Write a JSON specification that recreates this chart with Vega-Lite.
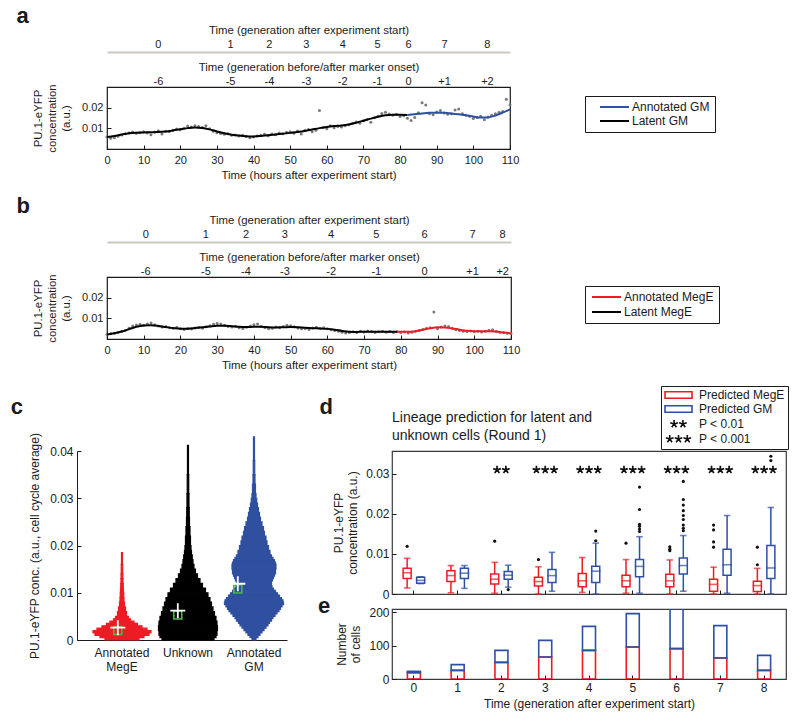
{
  "$schema": "https://vega.github.io/schema/vega-lite/v6.json",
  "padding": {"left": 10, "top": 4, "right": 4, "bottom": 4},
  "background": "white",
  "config": {
    "font": "Liberation Sans",
    "view": {"stroke": null},
    "axis": {"labelFontSize": 12, "titleFontSize": 12, "titleFontWeight": "normal", "labelColor": "#1a1a1a", "titleColor": "#1a1a1a", "domainColor": "#1a1a1a", "tickColor": "#1a1a1a", "grid": false, "labelFlush": false, "labelOverlap": false, "labelFont": "Liberation Sans", "titleFont": "Liberation Sans"},
    "legend": {"labelFont": "Liberation Sans", "labelFontSize": 12, "labelColor": "#1a1a1a"},
    "title": {"font": "Liberation Sans", "color": "#1a1a1a"}
  },
  "datasets": {
    "aPts": [
      {"hour":0,"conc":0.0058},{"hour":1,"conc":0.0052},{"hour":2,"conc":0.0055},{"hour":3,"conc":0.0062},{"hour":4,"conc":0.0068},{"hour":5,"conc":0.0074},{"hour":6,"conc":0.0078},{"hour":7,"conc":0.0082},{"hour":8,"conc":0.0076},{"hour":9,"conc":0.0079},
      {"hour":10,"conc":0.0083},{"hour":11,"conc":0.0077},{"hour":12,"conc":0.0069},{"hour":13,"conc":0.0082},{"hour":14,"conc":0.0088},{"hour":15,"conc":0.0072},{"hour":16,"conc":0.0086},{"hour":17,"conc":0.0085},{"hour":18,"conc":0.0091},{"hour":19,"conc":0.0097},
      {"hour":20,"conc":0.0093},{"hour":21,"conc":0.0101},{"hour":22,"conc":0.0111},{"hour":23,"conc":0.0106},{"hour":24,"conc":0.0113},{"hour":25,"conc":0.0109},{"hour":26,"conc":0.0104},{"hour":27,"conc":0.0112},{"hour":28,"conc":0.0098},{"hour":29,"conc":0.0086},
      {"hour":30,"conc":0.0079},{"hour":31,"conc":0.0075},{"hour":32,"conc":0.0071},{"hour":33,"conc":0.0074},{"hour":34,"conc":0.0066},{"hour":35,"conc":0.0068},{"hour":36,"conc":0.0063},{"hour":37,"conc":0.0066},{"hour":38,"conc":0.0061},{"hour":39,"conc":0.0055},
      {"hour":40,"conc":0.0058},{"hour":41,"conc":0.0063},{"hour":42,"conc":0.0067},{"hour":43,"conc":0.0071},{"hour":44,"conc":0.0064},{"hour":45,"conc":0.0073},{"hour":46,"conc":0.0069},{"hour":47,"conc":0.0078},{"hour":48,"conc":0.0074},{"hour":49,"conc":0.0081},
      {"hour":50,"conc":0.0084},{"hour":51,"conc":0.0076},{"hour":52,"conc":0.0087},{"hour":53,"conc":0.0072},{"hour":54,"conc":0.0089},{"hour":55,"conc":0.0094},{"hour":56,"conc":0.0083},{"hour":57,"conc":0.0091},{"hour":58,"conc":0.0186},{"hour":59,"conc":0.0104},
      {"hour":60,"conc":0.0098},{"hour":61,"conc":0.0112},{"hour":62,"conc":0.0103},{"hour":63,"conc":0.0109},{"hour":64,"conc":0.0106},{"hour":65,"conc":0.0113},{"hour":66,"conc":0.0117},{"hour":67,"conc":0.0124},{"hour":68,"conc":0.0131},{"hour":69,"conc":0.0125},
      {"hour":70,"conc":0.0137},{"hour":71,"conc":0.0143},{"hour":72,"conc":0.0129},{"hour":73,"conc":0.0151},{"hour":74,"conc":0.0158},{"hour":75,"conc":0.0172},{"hour":76,"conc":0.0178},{"hour":77,"conc":0.0169},{"hour":78,"conc":0.0163},{"hour":79,"conc":0.0168},
      {"hour":80,"conc":0.0157},{"hour":81,"conc":0.0161},{"hour":82,"conc":0.0149},{"hour":83,"conc":0.0138},{"hour":84,"conc":0.0152},{"hour":85,"conc":0.0176},{"hour":86,"conc":0.0224},{"hour":87,"conc":0.0213},{"hour":88,"conc":0.0171},{"hour":89,"conc":0.0166},
      {"hour":90,"conc":0.0179},{"hour":91,"conc":0.0186},{"hour":92,"conc":0.0174},{"hour":93,"conc":0.0168},{"hour":94,"conc":0.0171},{"hour":95,"conc":0.0189},{"hour":96,"conc":0.0193},{"hour":97,"conc":0.0171},{"hour":98,"conc":0.0163},{"hour":99,"conc":0.0158},
      {"hour":100,"conc":0.0147},{"hour":101,"conc":0.0152},{"hour":102,"conc":0.0158},{"hour":103,"conc":0.0141},{"hour":104,"conc":0.0155},{"hour":105,"conc":0.0163},{"hour":106,"conc":0.0171},{"hour":107,"conc":0.0178},{"hour":108,"conc":0.0182},{"hour":109,"conc":0.0241},{"hour":110,"conc":0.0214}
    ],
    "bPts": [
      {"hour":0,"conc":0.0022},{"hour":1,"conc":0.0025},{"hour":2,"conc":0.0028},{"hour":3,"conc":0.0031},{"hour":4,"conc":0.0036},{"hour":5,"conc":0.0041},{"hour":6,"conc":0.0052},{"hour":7,"conc":0.0063},{"hour":8,"conc":0.0068},{"hour":9,"conc":0.0071},
      {"hour":10,"conc":0.0066},{"hour":11,"conc":0.0073},{"hour":12,"conc":0.0078},{"hour":13,"conc":0.0069},{"hour":14,"conc":0.0063},{"hour":15,"conc":0.0058},{"hour":16,"conc":0.0061},{"hour":17,"conc":0.0055},{"hour":18,"conc":0.0052},{"hour":19,"conc":0.0057},
      {"hour":20,"conc":0.0049},{"hour":21,"conc":0.0046},{"hour":22,"conc":0.0051},{"hour":23,"conc":0.0048},{"hour":24,"conc":0.0053},{"hour":25,"conc":0.0056},{"hour":26,"conc":0.0052},{"hour":27,"conc":0.0059},{"hour":28,"conc":0.0064},{"hour":29,"conc":0.0071},
      {"hour":30,"conc":0.0075},{"hour":31,"conc":0.0073},{"hour":32,"conc":0.0066},{"hour":33,"conc":0.0061},{"hour":34,"conc":0.0058},{"hour":35,"conc":0.0062},{"hour":36,"conc":0.0055},{"hour":37,"conc":0.0051},{"hour":38,"conc":0.0057},{"hour":39,"conc":0.0063},
      {"hour":40,"conc":0.0069},{"hour":41,"conc":0.0073},{"hour":42,"conc":0.0061},{"hour":43,"conc":0.0054},{"hour":44,"conc":0.0049},{"hour":45,"conc":0.0052},{"hour":46,"conc":0.0058},{"hour":47,"conc":0.0055},{"hour":48,"conc":0.0061},{"hour":49,"conc":0.0066},
      {"hour":50,"conc":0.0064},{"hour":51,"conc":0.0059},{"hour":52,"conc":0.0053},{"hour":53,"conc":0.0049},{"hour":54,"conc":0.0051},{"hour":55,"conc":0.0046},{"hour":56,"conc":0.0053},{"hour":57,"conc":0.0057},{"hour":58,"conc":0.0051},{"hour":59,"conc":0.0055},
      {"hour":60,"conc":0.0049},{"hour":61,"conc":0.0045},{"hour":62,"conc":0.0041},{"hour":63,"conc":0.0037},{"hour":64,"conc":0.0033},{"hour":65,"conc":0.0029},{"hour":66,"conc":0.0031},{"hour":67,"conc":0.0035},{"hour":68,"conc":0.0032},{"hour":69,"conc":0.0037},
      {"hour":70,"conc":0.0034},{"hour":71,"conc":0.0039},{"hour":72,"conc":0.0036},{"hour":73,"conc":0.0031},{"hour":74,"conc":0.0035},{"hour":75,"conc":0.0038},{"hour":76,"conc":0.0033},{"hour":77,"conc":0.0036},{"hour":78,"conc":0.0032},{"hour":79,"conc":0.0035},
      {"hour":80,"conc":0.0031},{"hour":81,"conc":0.0034},{"hour":82,"conc":0.0029},{"hour":83,"conc":0.0033},{"hour":84,"conc":0.0037},{"hour":85,"conc":0.0041},{"hour":86,"conc":0.0046},{"hour":87,"conc":0.0052},{"hour":88,"conc":0.0055},{"hour":89,"conc":0.0131},
      {"hour":90,"conc":0.0049},{"hour":91,"conc":0.0058},{"hour":92,"conc":0.0063},{"hour":93,"conc":0.0061},{"hour":94,"conc":0.0052},{"hour":95,"conc":0.0045},{"hour":96,"conc":0.0041},{"hour":97,"conc":0.0038},{"hour":98,"conc":0.0036},{"hour":99,"conc":0.0039},
      {"hour":100,"conc":0.0035},{"hour":101,"conc":0.0037},{"hour":102,"conc":0.0034},{"hour":103,"conc":0.0038},{"hour":104,"conc":0.0042},{"hour":105,"conc":0.0045},{"hour":106,"conc":0.0036},{"hour":107,"conc":0.0033},{"hour":108,"conc":0.0031},{"hour":109,"conc":0.0028},{"hour":110,"conc":0.0027}
    ],
    "aCurve": [
      {"series":"Latent GM","hour":0,"conc":0.0058},{"series":"Latent GM","hour":2,"conc":0.0063},{"series":"Latent GM","hour":4,"conc":0.0070},{"series":"Latent GM","hour":6,"conc":0.0076},{"series":"Latent GM","hour":8,"conc":0.0079},{"series":"Latent GM","hour":10,"conc":0.0080},{"series":"Latent GM","hour":12,"conc":0.0081},{"series":"Latent GM","hour":14,"conc":0.0082},{"series":"Latent GM","hour":16,"conc":0.0085},{"series":"Latent GM","hour":18,"conc":0.0090},
      {"series":"Latent GM","hour":20,"conc":0.0096},{"series":"Latent GM","hour":22,"conc":0.0101},{"series":"Latent GM","hour":24,"conc":0.0104},{"series":"Latent GM","hour":26,"conc":0.0102},{"series":"Latent GM","hour":28,"conc":0.0095},{"series":"Latent GM","hour":30,"conc":0.0085},{"series":"Latent GM","hour":32,"conc":0.0076},{"series":"Latent GM","hour":34,"conc":0.0069},{"series":"Latent GM","hour":36,"conc":0.0065},{"series":"Latent GM","hour":38,"conc":0.0062},
      {"series":"Latent GM","hour":40,"conc":0.0061},{"series":"Latent GM","hour":42,"conc":0.0063},{"series":"Latent GM","hour":44,"conc":0.0066},{"series":"Latent GM","hour":46,"conc":0.0070},{"series":"Latent GM","hour":48,"conc":0.0074},{"series":"Latent GM","hour":50,"conc":0.0078},{"series":"Latent GM","hour":52,"conc":0.0082},{"series":"Latent GM","hour":54,"conc":0.0087},{"series":"Latent GM","hour":56,"conc":0.0094},{"series":"Latent GM","hour":58,"conc":0.0101},
      {"series":"Latent GM","hour":60,"conc":0.0107},{"series":"Latent GM","hour":62,"conc":0.0111},{"series":"Latent GM","hour":64,"conc":0.0114},{"series":"Latent GM","hour":66,"conc":0.0119},{"series":"Latent GM","hour":68,"conc":0.0127},{"series":"Latent GM","hour":70,"conc":0.0137},{"series":"Latent GM","hour":72,"conc":0.0147},{"series":"Latent GM","hour":74,"conc":0.0156},{"series":"Latent GM","hour":76,"conc":0.0163},{"series":"Latent GM","hour":78,"conc":0.0166},
      {"series":"Latent GM","hour":80,"conc":0.0166},{"series":"Latent GM","hour":82,"conc":0.0165},
      {"series":"Annotated GM","hour":82,"conc":0.0165},{"series":"Annotated GM","hour":84,"conc":0.0168},{"series":"Annotated GM","hour":86,"conc":0.0172},{"series":"Annotated GM","hour":88,"conc":0.0175},{"series":"Annotated GM","hour":90,"conc":0.0176},{"series":"Annotated GM","hour":92,"conc":0.0175},{"series":"Annotated GM","hour":94,"conc":0.0172},{"series":"Annotated GM","hour":96,"conc":0.0168},
      {"series":"Annotated GM","hour":98,"conc":0.0163},{"series":"Annotated GM","hour":100,"conc":0.0157},{"series":"Annotated GM","hour":102,"conc":0.0152},{"series":"Annotated GM","hour":104,"conc":0.0153},{"series":"Annotated GM","hour":106,"conc":0.0162},{"series":"Annotated GM","hour":108,"conc":0.0176},{"series":"Annotated GM","hour":110,"conc":0.0192}
    ],
    "bCurve": [
      {"series":"Latent MegE","hour":0,"conc":0.0022},{"series":"Latent MegE","hour":2,"conc":0.0028},{"series":"Latent MegE","hour":4,"conc":0.0036},{"series":"Latent MegE","hour":6,"conc":0.0048},{"series":"Latent MegE","hour":8,"conc":0.0059},{"series":"Latent MegE","hour":10,"conc":0.0065},{"series":"Latent MegE","hour":12,"conc":0.0066},{"series":"Latent MegE","hour":14,"conc":0.0063},{"series":"Latent MegE","hour":16,"conc":0.0058},{"series":"Latent MegE","hour":18,"conc":0.0053},
      {"series":"Latent MegE","hour":20,"conc":0.0050},{"series":"Latent MegE","hour":22,"conc":0.0050},{"series":"Latent MegE","hour":24,"conc":0.0053},{"series":"Latent MegE","hour":26,"conc":0.0057},{"series":"Latent MegE","hour":28,"conc":0.0061},{"series":"Latent MegE","hour":30,"conc":0.0064},{"series":"Latent MegE","hour":32,"conc":0.0064},{"series":"Latent MegE","hour":34,"conc":0.0062},{"series":"Latent MegE","hour":36,"conc":0.0059},{"series":"Latent MegE","hour":38,"conc":0.0058},
      {"series":"Latent MegE","hour":40,"conc":0.0059},{"series":"Latent MegE","hour":42,"conc":0.0059},{"series":"Latent MegE","hour":44,"conc":0.0057},{"series":"Latent MegE","hour":46,"conc":0.0056},{"series":"Latent MegE","hour":48,"conc":0.0057},{"series":"Latent MegE","hour":50,"conc":0.0058},{"series":"Latent MegE","hour":52,"conc":0.0057},{"series":"Latent MegE","hour":54,"conc":0.0054},{"series":"Latent MegE","hour":56,"conc":0.0052},{"series":"Latent MegE","hour":58,"conc":0.0051},
      {"series":"Latent MegE","hour":60,"conc":0.0049},{"series":"Latent MegE","hour":62,"conc":0.0045},{"series":"Latent MegE","hour":64,"conc":0.0039},{"series":"Latent MegE","hour":66,"conc":0.0035},{"series":"Latent MegE","hour":68,"conc":0.0034},{"series":"Latent MegE","hour":70,"conc":0.0035},{"series":"Latent MegE","hour":72,"conc":0.0035},{"series":"Latent MegE","hour":74,"conc":0.0035},{"series":"Latent MegE","hour":76,"conc":0.0035},{"series":"Latent MegE","hour":79,"conc":0.0035},
      {"series":"Annotated MegE","hour":79,"conc":0.0035},{"series":"Annotated MegE","hour":82,"conc":0.0035},{"series":"Annotated MegE","hour":84,"conc":0.0038},{"series":"Annotated MegE","hour":86,"conc":0.0045},{"series":"Annotated MegE","hour":88,"conc":0.0052},{"series":"Annotated MegE","hour":90,"conc":0.0057},{"series":"Annotated MegE","hour":92,"conc":0.0056},{"series":"Annotated MegE","hour":94,"conc":0.0051},
      {"series":"Annotated MegE","hour":96,"conc":0.0045},{"series":"Annotated MegE","hour":98,"conc":0.0040},{"series":"Annotated MegE","hour":100,"conc":0.0038},{"series":"Annotated MegE","hour":102,"conc":0.0038},{"series":"Annotated MegE","hour":104,"conc":0.0038},{"series":"Annotated MegE","hour":106,"conc":0.0036},{"series":"Annotated MegE","hour":108,"conc":0.0031},{"series":"Annotated MegE","hour":110,"conc":0.0027}
    ],
    "violin": [
      {"group":"Annotated MegE","v0":0,"v1":0.0005,"w":34},{"group":"Annotated MegE","v0":0.0005,"v1":0.001,"w":44},{"group":"Annotated MegE","v0":0.001,"v1":0.0015,"w":54},{"group":"Annotated MegE","v0":0.0015,"v1":0.002,"w":58},{"group":"Annotated MegE","v0":0.002,"v1":0.0025,"w":50},{"group":"Annotated MegE","v0":0.0025,"v1":0.003,"w":40},{"group":"Annotated MegE","v0":0.003,"v1":0.0035,"w":31},{"group":"Annotated MegE","v0":0.0035,"v1":0.004,"w":24},{"group":"Annotated MegE","v0":0.004,"v1":0.0045,"w":17},{"group":"Annotated MegE","v0":0.0045,"v1":0.005,"w":13},
      {"group":"Annotated MegE","v0":0.005,"v1":0.006,"w":9},{"group":"Annotated MegE","v0":0.006,"v1":0.007,"w":7},{"group":"Annotated MegE","v0":0.007,"v1":0.008,"w":5},{"group":"Annotated MegE","v0":0.008,"v1":0.009,"w":4},{"group":"Annotated MegE","v0":0.009,"v1":0.01,"w":3.5},{"group":"Annotated MegE","v0":0.01,"v1":0.011,"w":3},{"group":"Annotated MegE","v0":0.011,"v1":0.012,"w":2.5},{"group":"Annotated MegE","v0":0.012,"v1":0.013,"w":2},{"group":"Annotated MegE","v0":0.013,"v1":0.014,"w":1.8},{"group":"Annotated MegE","v0":0.014,"v1":0.016,"w":1.5},{"group":"Annotated MegE","v0":0.016,"v1":0.0185,"w":1},
      {"group":"Unknown","v0":0,"v1":0.0005,"w":52},{"group":"Unknown","v0":0.0005,"v1":0.001,"w":56},{"group":"Unknown","v0":0.001,"v1":0.002,"w":58},{"group":"Unknown","v0":0.002,"v1":0.003,"w":59},{"group":"Unknown","v0":0.003,"v1":0.004,"w":58},{"group":"Unknown","v0":0.004,"v1":0.005,"w":56},{"group":"Unknown","v0":0.005,"v1":0.006,"w":53},{"group":"Unknown","v0":0.006,"v1":0.007,"w":50},{"group":"Unknown","v0":0.007,"v1":0.008,"w":47},{"group":"Unknown","v0":0.008,"v1":0.009,"w":44},
      {"group":"Unknown","v0":0.009,"v1":0.01,"w":40},{"group":"Unknown","v0":0.01,"v1":0.011,"w":35},{"group":"Unknown","v0":0.011,"v1":0.012,"w":29},{"group":"Unknown","v0":0.012,"v1":0.013,"w":24},{"group":"Unknown","v0":0.013,"v1":0.014,"w":19},{"group":"Unknown","v0":0.014,"v1":0.015,"w":15},{"group":"Unknown","v0":0.015,"v1":0.016,"w":12},{"group":"Unknown","v0":0.016,"v1":0.017,"w":10},{"group":"Unknown","v0":0.017,"v1":0.018,"w":8.5},{"group":"Unknown","v0":0.018,"v1":0.019,"w":7},
      {"group":"Unknown","v0":0.019,"v1":0.02,"w":6},{"group":"Unknown","v0":0.02,"v1":0.022,"w":5},{"group":"Unknown","v0":0.022,"v1":0.024,"w":4},{"group":"Unknown","v0":0.024,"v1":0.026,"w":3},{"group":"Unknown","v0":0.026,"v1":0.028,"w":2.5},{"group":"Unknown","v0":0.028,"v1":0.031,"w":2},{"group":"Unknown","v0":0.031,"v1":0.035,"w":1.5},{"group":"Unknown","v0":0.035,"v1":0.0412,"w":1},
      {"group":"Annotated GM","v0":0,"v1":0.0005,"w":4},{"group":"Annotated GM","v0":0.0005,"v1":0.001,"w":8},{"group":"Annotated GM","v0":0.001,"v1":0.0015,"w":12},{"group":"Annotated GM","v0":0.0015,"v1":0.002,"w":16},{"group":"Annotated GM","v0":0.002,"v1":0.0025,"w":20},{"group":"Annotated GM","v0":0.0025,"v1":0.003,"w":24},{"group":"Annotated GM","v0":0.003,"v1":0.0035,"w":28},{"group":"Annotated GM","v0":0.0035,"v1":0.004,"w":31},{"group":"Annotated GM","v0":0.004,"v1":0.0045,"w":35},{"group":"Annotated GM","v0":0.0045,"v1":0.005,"w":38},
      {"group":"Annotated GM","v0":0.005,"v1":0.0055,"w":42},{"group":"Annotated GM","v0":0.0055,"v1":0.006,"w":46},{"group":"Annotated GM","v0":0.006,"v1":0.0065,"w":50},{"group":"Annotated GM","v0":0.0065,"v1":0.007,"w":53},{"group":"Annotated GM","v0":0.007,"v1":0.0075,"w":56},{"group":"Annotated GM","v0":0.0075,"v1":0.008,"w":59},{"group":"Annotated GM","v0":0.008,"v1":0.0085,"w":58},{"group":"Annotated GM","v0":0.0085,"v1":0.009,"w":55},{"group":"Annotated GM","v0":0.009,"v1":0.0095,"w":51},{"group":"Annotated GM","v0":0.0095,"v1":0.01,"w":47},
      {"group":"Annotated GM","v0":0.01,"v1":0.0105,"w":43},{"group":"Annotated GM","v0":0.0105,"v1":0.011,"w":39},{"group":"Annotated GM","v0":0.011,"v1":0.0115,"w":36},{"group":"Annotated GM","v0":0.0115,"v1":0.012,"w":35},{"group":"Annotated GM","v0":0.012,"v1":0.0125,"w":35},{"group":"Annotated GM","v0":0.0125,"v1":0.013,"w":37},{"group":"Annotated GM","v0":0.013,"v1":0.0135,"w":39},{"group":"Annotated GM","v0":0.0135,"v1":0.014,"w":41},{"group":"Annotated GM","v0":0.014,"v1":0.015,"w":43},{"group":"Annotated GM","v0":0.015,"v1":0.016,"w":44},
      {"group":"Annotated GM","v0":0.016,"v1":0.0165,"w":43},{"group":"Annotated GM","v0":0.0165,"v1":0.017,"w":41},{"group":"Annotated GM","v0":0.017,"v1":0.0175,"w":38},{"group":"Annotated GM","v0":0.0175,"v1":0.018,"w":35},{"group":"Annotated GM","v0":0.018,"v1":0.019,"w":32},{"group":"Annotated GM","v0":0.019,"v1":0.02,"w":29},{"group":"Annotated GM","v0":0.02,"v1":0.021,"w":26},{"group":"Annotated GM","v0":0.021,"v1":0.022,"w":24},{"group":"Annotated GM","v0":0.022,"v1":0.023,"w":21},{"group":"Annotated GM","v0":0.023,"v1":0.024,"w":19},
      {"group":"Annotated GM","v0":0.024,"v1":0.025,"w":16},{"group":"Annotated GM","v0":0.025,"v1":0.026,"w":13},{"group":"Annotated GM","v0":0.026,"v1":0.027,"w":11},{"group":"Annotated GM","v0":0.027,"v1":0.028,"w":9},{"group":"Annotated GM","v0":0.028,"v1":0.029,"w":7},{"group":"Annotated GM","v0":0.029,"v1":0.03,"w":5.5},{"group":"Annotated GM","v0":0.03,"v1":0.031,"w":4},{"group":"Annotated GM","v0":0.031,"v1":0.033,"w":3},{"group":"Annotated GM","v0":0.033,"v1":0.035,"w":2},{"group":"Annotated GM","v0":0.035,"v1":0.038,"w":1.5},{"group":"Annotated GM","v0":0.038,"v1":0.043,"w":1},
      {"group":"Annotated MegE","mean":0.0026,"median":0.002},{"group":"Unknown","mean":0.0062,"median":0.0053},{"group":"Annotated GM","mean":0.0119,"median":0.0108}
    ],
    "boxes": [
      {"gen":0,"lineage":"Predicted MegE","lo":0.0015,"q1":0.0039,"med":0.0053,"q3":0.0064,"hi":0.0089},
      {"gen":0,"lineage":"Predicted GM","lo":0.0026,"q1":0.0027,"med":0.0034,"q3":0.0042,"hi":0.0043},
      {"gen":1,"lineage":"Predicted MegE","lo":0.0003,"q1":0.0031,"med":0.0046,"q3":0.0058,"hi":0.0071},
      {"gen":1,"lineage":"Predicted GM","lo":0.0014,"q1":0.0039,"med":0.0052,"q3":0.0064,"hi":0.0071},
      {"gen":2,"lineage":"Predicted MegE","lo":0.0002,"q1":0.0025,"med":0.0037,"q3":0.005,"hi":0.0079},
      {"gen":2,"lineage":"Predicted GM","lo":0.0017,"q1":0.0037,"med":0.0047,"q3":0.0056,"hi":0.0072},
      {"gen":3,"lineage":"Predicted MegE","lo":0.0,"q1":0.002,"med":0.0031,"q3":0.0042,"hi":0.0068},
      {"gen":3,"lineage":"Predicted GM","lo":0.0007,"q1":0.0029,"med":0.0046,"q3":0.0061,"hi":0.0104},
      {"gen":4,"lineage":"Predicted MegE","lo":0.0004,"q1":0.0018,"med":0.0033,"q3":0.0051,"hi":0.0091},
      {"gen":4,"lineage":"Predicted GM","lo":0.0,"q1":0.0029,"med":0.0057,"q3":0.0069,"hi":0.0127},
      {"gen":5,"lineage":"Predicted MegE","lo":0.0002,"q1":0.0018,"med":0.0033,"q3":0.0047,"hi":0.0086},
      {"gen":5,"lineage":"Predicted GM","lo":0.0002,"q1":0.0043,"med":0.0069,"q3":0.0086,"hi":0.0143},
      {"gen":6,"lineage":"Predicted MegE","lo":0.0,"q1":0.0018,"med":0.0033,"q3":0.0049,"hi":0.0085},
      {"gen":6,"lineage":"Predicted GM","lo":0.0007,"q1":0.005,"med":0.0071,"q3":0.009,"hi":0.0146},
      {"gen":7,"lineage":"Predicted MegE","lo":0.0,"q1":0.0007,"med":0.0024,"q3":0.0037,"hi":0.0067},
      {"gen":7,"lineage":"Predicted GM","lo":0.0002,"q1":0.0047,"med":0.0073,"q3":0.0112,"hi":0.0196},
      {"gen":8,"lineage":"Predicted MegE","lo":0.0,"q1":0.0006,"med":0.0021,"q3":0.0032,"hi":0.0064},
      {"gen":8,"lineage":"Predicted GM","lo":0.0,"q1":0.0039,"med":0.0065,"q3":0.0121,"hi":0.0216}
    ],
    "outliers": [
      {"gen":0,"lineage":"Predicted MegE","v":0.0119},
      {"gen":2,"lineage":"Predicted MegE","v":0.0132},{"gen":2,"lineage":"Predicted GM","v":0.0011},
      {"gen":3,"lineage":"Predicted MegE","v":0.0086},
      {"gen":4,"lineage":"Predicted GM","v":0.0133},{"gen":4,"lineage":"Predicted GM","v":0.0157},
      {"gen":5,"lineage":"Predicted MegE","v":0.0127},
      {"gen":5,"lineage":"Predicted GM","v":0.0156},{"gen":5,"lineage":"Predicted GM","v":0.0162},{"gen":5,"lineage":"Predicted GM","v":0.0169},{"gen":5,"lineage":"Predicted GM","v":0.0174},{"gen":5,"lineage":"Predicted GM","v":0.0211},{"gen":5,"lineage":"Predicted GM","v":0.0267},
      {"gen":6,"lineage":"Predicted MegE","v":0.0108},{"gen":6,"lineage":"Predicted MegE","v":0.0112},{"gen":6,"lineage":"Predicted MegE","v":0.0118},
      {"gen":6,"lineage":"Predicted GM","v":0.0158},{"gen":6,"lineage":"Predicted GM","v":0.0164},{"gen":6,"lineage":"Predicted GM","v":0.0172},{"gen":6,"lineage":"Predicted GM","v":0.0186},{"gen":6,"lineage":"Predicted GM","v":0.0196},{"gen":6,"lineage":"Predicted GM","v":0.0208},{"gen":6,"lineage":"Predicted GM","v":0.0222},{"gen":6,"lineage":"Predicted GM","v":0.0236},{"gen":6,"lineage":"Predicted GM","v":0.0281},
      {"gen":7,"lineage":"Predicted MegE","v":0.0117},{"gen":7,"lineage":"Predicted MegE","v":0.013},{"gen":7,"lineage":"Predicted MegE","v":0.016},{"gen":7,"lineage":"Predicted MegE","v":0.0172},
      {"gen":8,"lineage":"Predicted MegE","v":0.0073},{"gen":8,"lineage":"Predicted MegE","v":0.0117},
      {"gen":8,"lineage":"Predicted GM","v":0.0333},{"gen":8,"lineage":"Predicted GM","v":0.0344}
    ],
    "stars": [
      {"gen":2,"key":"P < 0.01"},{"gen":3,"key":"P < 0.001"},{"gen":4,"key":"P < 0.001"},{"gen":5,"key":"P < 0.001"},{"gen":6,"key":"P < 0.001"},{"gen":7,"key":"P < 0.001"},{"gen":8,"key":"P < 0.001"}
    ],
    "counts": [
      {"gen":0,"lineage":"Predicted MegE","count":19},{"gen":0,"lineage":"Predicted GM","count":4},
      {"gen":1,"lineage":"Predicted MegE","count":26},{"gen":1,"lineage":"Predicted GM","count":17},
      {"gen":2,"lineage":"Predicted MegE","count":50},{"gen":2,"lineage":"Predicted GM","count":36},
      {"gen":3,"lineage":"Predicted MegE","count":66},{"gen":3,"lineage":"Predicted GM","count":50},
      {"gen":4,"lineage":"Predicted MegE","count":86},{"gen":4,"lineage":"Predicted GM","count":72},
      {"gen":5,"lineage":"Predicted MegE","count":96},{"gen":5,"lineage":"Predicted GM","count":100},
      {"gen":6,"lineage":"Predicted MegE","count":91},{"gen":6,"lineage":"Predicted GM","count":121},
      {"gen":7,"lineage":"Predicted MegE","count":63},{"gen":7,"lineage":"Predicted GM","count":97},
      {"gen":8,"lineage":"Predicted MegE","count":26},{"gen":8,"lineage":"Predicted GM","count":45}
    ]
  },
  "columns": 1,
  "align": "none",
  "spacing": 13,
  "resolve": {"scale": {"color": "independent", "shape": "independent", "stroke": "independent", "size": "independent"}, "legend": {"color": "independent", "shape": "independent"}},
  "concat": [
    {
      "spacing": 13,
      "resolve": {"scale": {"color": "independent"}, "legend": {"color": "independent"}},
      "vconcat": [
        {
          "width": 403, "height": 62,
          "view": {"stroke": "#1a1a1a", "strokeWidth": 1.2},
          "title": {"text": "a", "anchor": "start", "frame": "bounds", "dx": -16, "fontSize": 22, "fontWeight": "bold", "offset": -4},
          "resolve": {"scale": {"x": "independent"}},
          "layer": [
            {
              "data": {"name": "aPts"},
              "mark": {"type": "circle", "size": 9, "color": "#7a7a7a", "opacity": 1},
              "encoding": {
                "x": {"field": "hour", "type": "quantitative", "scale": {"domain": [0, 110], "nice": false}, "axis": {"values": [0,10,20,30,40,50,60,70,80,90,100,110], "title": "Time (hours after experiment start)", "labelFontSize": 11, "titleFontSize": 11.4, "tickSize": -4, "labelPadding": 9, "titlePadding": 4, "domain": false}},
                "y": {"field": "conc", "type": "quantitative", "scale": {"domain": [0, 0.03], "nice": false}, "axis": {"values": [0.01, 0.02], "format": ".2f", "title": ["PU.1-eYFP", "concentration", "(a.u.)"], "labelFontSize": 11, "titleFontSize": 11.4, "titleLineHeight": 14, "tickSize": -4, "labelPadding": 8, "titlePadding": 10, "domain": false}}
              }
            },
            {
              "data": {"name": "aCurve"},
              "transform": [{"filter": "datum.series == 'Latent GM'"}],
              "mark": {"type": "line", "strokeWidth": 2, "interpolate": "monotone"},
              "encoding": {
                "x": {"field": "hour", "type": "quantitative", "scale": {"domain": [0, 110], "nice": false}, "axis": {"orient": "top", "values": [13.9,33.6,44.2,54.3,64.2,73.7,82.2,92,103.7], "labelExpr": "(indexof([13.9,33.6,44.2,54.3,64.2,73.7,82.2,92,103.7], datum.value) > 6 ? '+' : '') + (indexof([13.9,33.6,44.2,54.3,64.2,73.7,82.2,92,103.7], datum.value) - 6)", "title": "Time (generation before/after marker onset)", "labelFontSize": 11, "titleFontSize": 11.4, "ticks": false, "domain": false, "labelPadding": 1, "titlePadding": 3}},
                "y": {"field": "conc", "type": "quantitative"},
                "color": {"field": "series", "type": "nominal", "scale": {"domain": ["Annotated GM", "Latent GM"], "range": ["#2d50a5", "#000000"]}, "legend": {"orient": "none", "legendX": 478, "legendY": 9, "title": null, "strokeColor": "#1a1a1a", "padding": 5, "symbolType": "M-2.9,0H2.9", "symbolSize": 100, "symbolOffset": 18.5, "symbolStrokeWidth": 2, "rowPadding": 2, "labelOffset": 11.5}}
              }
            },
            {
              "data": {"name": "aCurve"},
              "transform": [{"filter": "datum.series == 'Annotated GM'"}],
              "mark": {"type": "line", "strokeWidth": 2, "interpolate": "monotone"},
              "encoding": {
                "x": {"field": "hour", "type": "quantitative", "scale": {"domain": [0, 110], "nice": false}, "axis": {"orient": "top", "offset": 35, "values": [13.9,33.6,44.2,54.3,64.2,73.7,82.2,92,103.7], "labelExpr": "'' + indexof([13.9,33.6,44.2,54.3,64.2,73.7,82.2,92,103.7], datum.value)", "title": "Time (generation after experiment start)", "labelFontSize": 11, "titleFontSize": 11.4, "ticks": false, "domainColor": "#cdc9c1", "domainWidth": 2, "labelPadding": 3, "titlePadding": 3}},
                "y": {"field": "conc", "type": "quantitative"},
                "color": {"field": "series", "type": "nominal", "scale": {"domain": ["Annotated GM", "Latent GM"], "range": ["#2d50a5", "#000000"]}}
              }
            }
          ]
        },
        {
          "width": 404, "height": 62,
          "view": {"stroke": "#1a1a1a", "strokeWidth": 1.2},
          "title": {"text": "b", "anchor": "start", "frame": "bounds", "dx": -16, "fontSize": 22, "fontWeight": "bold", "offset": -4},
          "resolve": {"scale": {"x": "independent"}},
          "layer": [
            {
              "data": {"name": "bPts"},
              "mark": {"type": "circle", "size": 9, "color": "#7a7a7a", "opacity": 1},
              "encoding": {
                "x": {"field": "hour", "type": "quantitative", "scale": {"domain": [0, 110], "nice": false}, "axis": {"values": [0,10,20,30,40,50,60,70,80,90,100,110], "title": "Time (hours after experiment start)", "labelFontSize": 11, "titleFontSize": 11.4, "tickSize": -4, "labelPadding": 9, "titlePadding": 4, "domain": false}},
                "y": {"field": "conc", "type": "quantitative", "scale": {"domain": [0, 0.03], "nice": false}, "axis": {"values": [0.01, 0.02], "format": ".2f", "title": ["PU.1-eYFP", "concentration", "(a.u.)"], "labelFontSize": 11, "titleFontSize": 11.4, "titleLineHeight": 14, "tickSize": -4, "labelPadding": 8, "titlePadding": 10, "domain": false}}
              }
            },
            {
              "data": {"name": "bCurve"},
              "transform": [{"filter": "datum.series == 'Latent MegE'"}],
              "mark": {"type": "line", "strokeWidth": 2, "interpolate": "monotone"},
              "encoding": {
                "x": {"field": "hour", "type": "quantitative", "scale": {"domain": [0, 110], "nice": false}, "axis": {"orient": "top", "values": [10.4,26.8,37.7,48.3,60.9,73.2,86.3,99.4,107.6], "labelExpr": "(indexof([10.4,26.8,37.7,48.3,60.9,73.2,86.3,99.4,107.6], datum.value) > 6 ? '+' : '') + (indexof([10.4,26.8,37.7,48.3,60.9,73.2,86.3,99.4,107.6], datum.value) - 6)", "title": "Time (generation before/after marker onset)", "labelFontSize": 11, "titleFontSize": 11.4, "ticks": false, "domain": false, "labelPadding": 1, "titlePadding": 3}},
                "y": {"field": "conc", "type": "quantitative"},
                "color": {"field": "series", "type": "nominal", "scale": {"domain": ["Annotated MegE", "Latent MegE"], "range": ["#ed1c24", "#000000"]}, "legend": {"orient": "none", "legendX": 478, "legendY": 9, "title": null, "strokeColor": "#1a1a1a", "padding": 5, "symbolType": "M-2.9,0H2.9", "symbolSize": 100, "symbolOffset": 10.5, "symbolStrokeWidth": 2, "rowPadding": 3, "labelOffset": 11.5}}
              }
            },
            {
              "data": {"name": "bCurve"},
              "transform": [{"filter": "datum.series == 'Annotated MegE'"}],
              "mark": {"type": "line", "strokeWidth": 2, "interpolate": "monotone"},
              "encoding": {
                "x": {"field": "hour", "type": "quantitative", "scale": {"domain": [0, 110], "nice": false}, "axis": {"orient": "top", "offset": 35, "values": [10.4,26.8,37.7,48.3,60.9,73.2,86.3,99.4,107.6], "labelExpr": "'' + indexof([10.4,26.8,37.7,48.3,60.9,73.2,86.3,99.4,107.6], datum.value)", "title": "Time (generation after experiment start)", "labelFontSize": 11, "titleFontSize": 11.4, "ticks": false, "domainColor": "#cdc9c1", "domainWidth": 2, "labelPadding": 3, "titlePadding": 3}},
                "y": {"field": "conc", "type": "quantitative"},
                "color": {"field": "series", "type": "nominal", "scale": {"domain": ["Annotated MegE", "Latent MegE"], "range": ["#ed1c24", "#000000"]}}
              }
            }
          ]
        }
      ]
    },
    {
      "columns": 2,
      "align": "none",
      "spacing": 30,
      "resolve": {"scale": {"color": "independent", "shape": "independent", "stroke": "independent", "size": "independent"}, "legend": {"color": "independent", "shape": "independent"}},
      "concat": [
        {
          "width": 180, "height": 189,
          "data": {"name": "violin"},
          "title": {"text": "c", "anchor": "start", "frame": "bounds", "dx": -18, "fontSize": 22, "fontWeight": "bold", "offset": 13},
          "resolve": {"scale": {"x": "independent"}},
          "layer": [
            {
              "transform": [{"filter": "isValid(datum.w)"}],
              "mark": {"type": "bar", "strokeWidth": 1.2},
              "encoding": {
                "x": {"field": "group", "type": "nominal", "scale": {"domain": ["Annotated MegE", "Unknown", "Annotated GM"], "paddingInner": 0.7, "paddingOuter": 0.2135, "align": 0.18}, "axis": {"orient": "bottom", "title": null, "ticks": false, "labelAngle": 0, "labelExpr": "split(datum.label, ' ')", "labelPadding": 7, "labelLineHeight": 14, "labelFontSize": 12}},
                "y": {"field": "v0", "type": "quantitative", "scale": {"domain": [0, 0.04], "nice": false}, "axis": {"offset": 30, "values": [0,0.005,0.01,0.015,0.02,0.025,0.03,0.035,0.04], "labelExpr": "round(datum.value*1000) % 10 == 0 ? format(datum.value, '~g') : ''", "title": "PU.1-eYFP conc. (a.u., cell cycle average)", "tickSize": -4, "labelPadding": 8, "titlePadding": 8}},
                "y2": {"field": "v1"},
                "size": {"field": "w", "type": "quantitative", "scale": {"domain": [0, 59], "range": [0, 59], "zero": true}, "legend": null},
                "color": {"field": "group", "type": "nominal", "scale": {"domain": ["Annotated MegE", "Unknown", "Annotated GM"], "range": ["#ed1c24", "#000000", "#2f4f9f"]}, "legend": null},
                "stroke": {"field": "group", "type": "nominal", "scale": {"domain": ["Annotated MegE", "Unknown", "Annotated GM"], "range": ["#ed1c24", "#000000", "#2f4f9f"]}, "legend": null}
              }
            },
            {
              "transform": [{"filter": "isValid(datum.median)"}],
              "mark": {"type": "square", "size": 64, "filled": false, "stroke": "#4cb848", "strokeWidth": 1.6, "opacity": 1},
              "encoding": {
                "x": {"field": "group", "type": "nominal", "scale": {"domain": ["Annotated MegE", "Unknown", "Annotated GM"], "paddingInner": 0.7, "paddingOuter": 0.2135, "align": 0.18}, "axis": {"orient": "bottom", "position": -30, "labels": false, "ticks": false, "title": null}},
                "y": {"field": "median", "type": "quantitative"}
              }
            },
            {
              "transform": [{"filter": "isValid(datum.mean)"}],
              "mark": {"type": "point", "shape": "M-1,0H1M0,-1V1", "size": 225, "filled": false, "stroke": "white", "strokeWidth": 1.8, "opacity": 1},
              "encoding": {
                "x": {"field": "group", "type": "nominal", "scale": {"domain": ["Annotated MegE", "Unknown", "Annotated GM"], "paddingInner": 0.7, "paddingOuter": 0.2135, "align": 0.18}, "axis": null},
                "y": {"field": "mean", "type": "quantitative"}
              }
            }
          ]
        },
        {
          "title": {"text": "d", "anchor": "start", "frame": "bounds", "dx": 2, "dy": 34, "fontSize": 22, "fontWeight": "bold", "offset": 0},
          "bounds": "flush",
          "spacing": 15,
          "resolve": {"scale": {"color": "independent", "shape": "independent", "stroke": "independent"}, "legend": {"color": "independent", "shape": "independent"}},
          "vconcat": [
            {
              "width": 394, "height": 143,
              "view": {"stroke": "#3a3a3a", "strokeWidth": 1.2},
              "title": {"text": ["Lineage prediction for latent and", "unknown cells (Round 1)"], "anchor": "start", "frame": "group", "fontSize": 14, "fontWeight": "normal", "lineHeight": 18, "offset": 9, "dy": 66},
              "layer": [
                {
                  "data": {"name": "boxes"},
                  "mark": {"type": "rule", "strokeWidth": 1.5},
                  "encoding": {
                    "x": {"field": "gen", "type": "ordinal", "scale": {"domain": [0,1,2,3,4,5,6,7,8], "paddingInner": 0, "paddingOuter": 0}, "axis": {"labels": false, "title": null, "tickSize": -4, "domain": false}},
                    "xOffset": {"field": "lineage", "type": "nominal", "scale": {"domain": ["Predicted MegE", "Predicted GM"], "paddingInner": 0, "paddingOuter": 0.62}},
                    "y": {"field": "lo", "type": "quantitative", "scale": {"domain": [0, 0.0357], "nice": false}, "axis": {"values": [0, 0.01, 0.02, 0.03], "format": "~g", "title": ["PU.1-eYFP", "concentration (a.u.)"], "titleLineHeight": 14, "tickSize": -4, "labelPadding": 7, "titlePadding": 6, "domain": false}},
                    "y2": {"field": "q1"},
                    "stroke": {"field": "lineage", "type": "nominal", "scale": {"domain": ["Predicted MegE", "Predicted GM"], "range": ["#ed1c24", "#2d50a5"]}, "legend": null}
                  }
                },
                {
                  "data": {"name": "boxes"},
                  "mark": {"type": "rule", "strokeWidth": 1.5},
                  "encoding": {
                    "x": {"field": "gen", "type": "ordinal"},
                    "xOffset": {"field": "lineage", "type": "nominal"},
                    "y": {"field": "q3", "type": "quantitative"},
                    "y2": {"field": "hi"},
                    "stroke": {"field": "lineage", "type": "nominal"}
                  }
                },
                {
                  "data": {"name": "boxes"},
                  "mark": {"type": "tick", "size": 5, "thickness": 0.1, "filled": false, "strokeWidth": 1.5},
                  "encoding": {
                    "x": {"field": "gen", "type": "ordinal"},
                    "xOffset": {"field": "lineage", "type": "nominal"},
                    "y": {"field": "lo", "type": "quantitative"},
                    "stroke": {"field": "lineage", "type": "nominal"}
                  }
                },
                {
                  "data": {"name": "boxes"},
                  "mark": {"type": "tick", "size": 5, "thickness": 0.1, "filled": false, "strokeWidth": 1.5},
                  "encoding": {
                    "x": {"field": "gen", "type": "ordinal"},
                    "xOffset": {"field": "lineage", "type": "nominal"},
                    "y": {"field": "hi", "type": "quantitative"},
                    "stroke": {"field": "lineage", "type": "nominal"}
                  }
                },
                {
                  "data": {"name": "boxes"},
                  "mark": {"type": "bar", "size": 8, "filled": false, "strokeWidth": 1.5},
                  "encoding": {
                    "x": {"field": "gen", "type": "ordinal"},
                    "xOffset": {"field": "lineage", "type": "nominal"},
                    "y": {"field": "q1", "type": "quantitative"},
                    "y2": {"field": "q3"},
                    "stroke": {"field": "lineage", "type": "nominal"}
                  }
                },
                {
                  "data": {"name": "boxes"},
                  "mark": {"type": "tick", "size": 8, "thickness": 0.1, "filled": false, "strokeWidth": 1.5},
                  "encoding": {
                    "x": {"field": "gen", "type": "ordinal"},
                    "xOffset": {"field": "lineage", "type": "nominal"},
                    "y": {"field": "med", "type": "quantitative"},
                    "stroke": {"field": "lineage", "type": "nominal"}
                  }
                },
                {
                  "data": {"name": "outliers"},
                  "mark": {"type": "circle", "size": 10, "color": "#111111", "opacity": 1},
                  "encoding": {
                    "x": {"field": "gen", "type": "ordinal"},
                    "xOffset": {"field": "lineage", "type": "nominal"},
                    "y": {"field": "v", "type": "quantitative"}
                  }
                },
                {
                  "data": {"name": "stars"},
                  "mark": {"type": "point", "size": 100, "filled": false, "strokeWidth": 1.7, "opacity": 1},
                  "encoding": {
                    "x": {"field": "gen", "type": "ordinal"},
                    "y": {"datum": 0.031, "type": "quantitative"},
                    "color": {"field": "key", "type": "nominal", "scale": {"domain": ["Predicted MegE", "Predicted GM", "P < 0.01", "P < 0.001"], "range": ["#ed1c24", "#2d50a5", "#111111", "#111111"]}, "legend": {"orient": "none", "legendX": 269, "legendY": -65, "title": null, "strokeColor": "#1a1a1a", "padding": 3, "symbolSize": 100, "symbolOffset": 8.5, "rowPadding": 0, "labelOffset": 14.5, "symbolStrokeWidth": 1.6}},
                    "shape": {"field": "key", "type": "nominal", "scale": {"domain": ["Predicted MegE", "Predicted GM", "P < 0.01", "P < 0.001"], "range": ["M-2.7,-0.64H2.7V0.64H-2.7Z", "M-2.7,-0.64H2.7V0.64H-2.7Z", "M-0.88,0V-0.8M-0.88,0L-0.119,-0.247M-0.88,0L-0.41,0.647M-0.88,0L-1.35,0.647M-0.88,0L-1.641,-0.247M0.88,0V-0.8M0.88,0L1.641,-0.247M0.88,0L1.35,0.647M0.88,0L0.41,0.647M0.88,0L0.119,-0.247", "M-1.76,0V-0.8M-1.76,0L-0.999,-0.247M-1.76,0L-1.29,0.647M-1.76,0L-2.23,0.647M-1.76,0L-2.521,-0.247M0,0V-0.8M0,0L0.761,-0.247M0,0L0.47,0.647M0,0L-0.47,0.647M0,0L-0.761,-0.247M1.76,0V-0.8M1.76,0L2.521,-0.247M1.76,0L2.23,0.647M1.76,0L1.29,0.647M1.76,0L0.999,-0.247"]}, "legend": {"orient": "none", "legendX": 269, "legendY": -65, "title": null, "strokeColor": "#1a1a1a", "padding": 3, "symbolSize": 100, "symbolOffset": 8.5, "rowPadding": 0, "labelOffset": 14.5, "symbolStrokeWidth": 1.6}}
                  }
                }
              ]
            },
            {
              "width": 394, "height": 70,
              "data": {"name": "counts"},
              "view": {"stroke": "#3a3a3a", "strokeWidth": 1.2},
              "title": {"text": "e", "anchor": "start", "frame": "bounds", "dx": -18, "dy": 0, "fontSize": 22, "fontWeight": "bold", "offset": -12},
              "mark": {"type": "bar", "size": 13, "filled": false, "strokeWidth": 1.6, "clip": true},
              "encoding": {
                "x": {"field": "gen", "type": "ordinal", "scale": {"paddingInner": 0, "paddingOuter": 0}, "axis": {"labelAngle": 0, "title": "Time (generation after experiment start)", "tickSize": -4, "labelPadding": 7, "titlePadding": 5, "domain": false}},
                "y": {"field": "count", "type": "quantitative", "stack": true, "scale": {"domain": [0, 210], "nice": false}, "axis": {"values": [0, 100, 200], "title": ["Number", "of cells"], "titleLineHeight": 14, "tickSize": -4, "labelPadding": 7, "titlePadding": 6, "domain": false}},
                "color": {"field": "lineage", "type": "nominal", "scale": {"domain": ["Predicted MegE", "Predicted GM"], "range": ["#ed1c24", "#2d50a5"]}, "legend": null},
                "order": {"field": "lineage", "sort": "descending"}
              }
            }
          ]
        }
      ]
    }
  ]
}
